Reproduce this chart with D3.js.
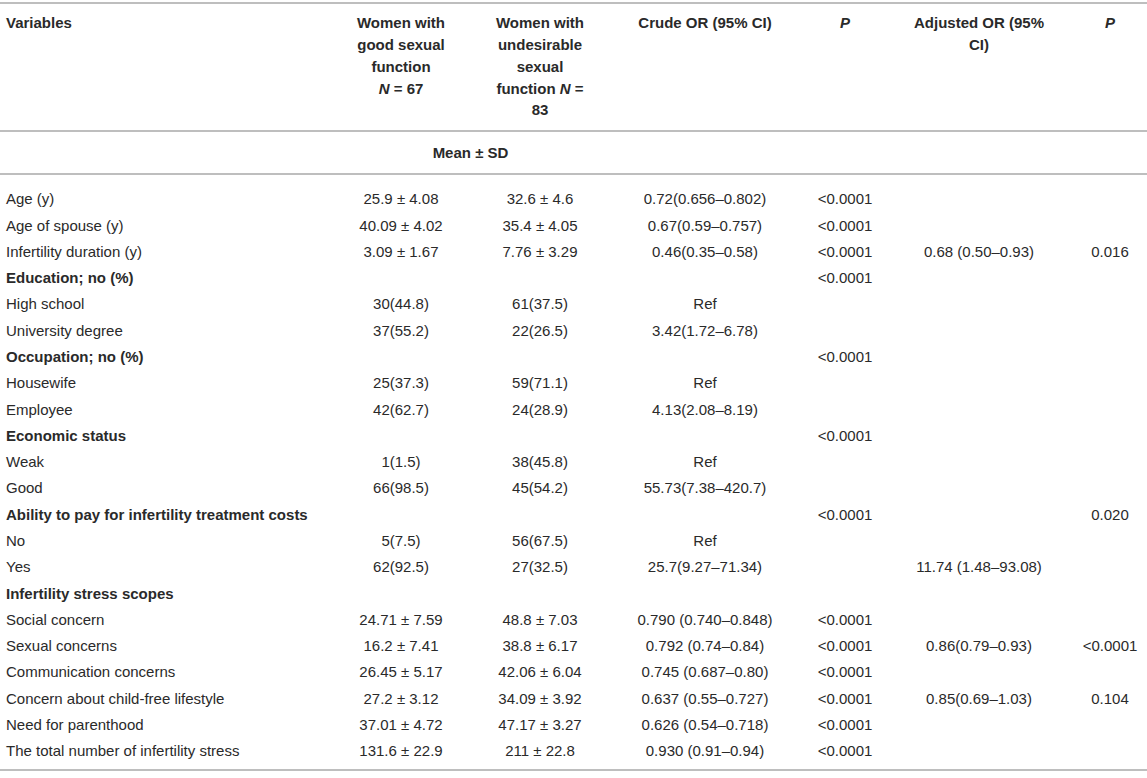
<!DOCTYPE html>
<html>
<head>
<meta charset="utf-8">
<script src="https://cdn.jsdelivr.net/npm/d3@7"></script>
<style>
  body { margin: 0; background: #fff; }
  svg text { font-family: "Liberation Sans", Helvetica, Arial, sans-serif; font-size: 15px; fill: #2a2a2a; }
</style>
</head>
<body>
<div id="chart"></div>
<script>
// table content
const columns = ["var", "good", "undes", "crude", "crudeP", "adj", "adjP"];

const headerLines = [
    ["Variables"],
    ["Women with", "good sexual", "function", "*N* = 67"],
    ["Women with", "undesirable", "sexual", "function *N* =", "83"],
    ["Crude OR (95% CI)"],
    ["*P*"],
    ["Adjusted OR (95%", "CI)"],
    ["*P*"]
];

const variables = [
    "Age (y)", "Age of spouse (y)", "Infertility duration (y)",
    "Education; no (%)", "High school", "University degree",
    "Occupation; no (%)", "Housewife", "Employee",
    "Economic status", "Weak", "Good",
    "Ability to pay for infertility treatment costs", "No", "Yes",
    "Infertility stress scopes", "Social concern", "Sexual concerns",
    "Communication concerns", "Concern about child-free lifestyle",
    "Need for parenthood", "The total number of infertility stress"
];
const boldRows = [3, 6, 9, 12, 15];

const goodFn = [
    "25.9 ± 4.08", "40.09 ± 4.02", "3.09 ± 1.67",
    "", "30(44.8)", "37(55.2)",
    "", "25(37.3)", "42(62.7)",
    "", "1(1.5)", "66(98.5)",
    "", "5(7.5)", "62(92.5)",
    "", "24.71 ± 7.59", "16.2 ± 7.41", "26.45 ± 5.17", "27.2 ± 3.12", "37.01 ± 4.72", "131.6 ± 22.9"
];
const undesFn = [
    "32.6 ± 4.6", "35.4 ± 4.05", "7.76 ± 3.29",
    "", "61(37.5)", "22(26.5)",
    "", "59(71.1)", "24(28.9)",
    "", "38(45.8)", "45(54.2)",
    "", "56(67.5)", "27(32.5)",
    "", "48.8 ± 7.03", "38.8 ± 6.17", "42.06 ± 6.04", "34.09 ± 3.92", "47.17 ± 3.27", "211 ± 22.8"
];
const crudeOR = [
    "0.72(0.656–0.802)", "0.67(0.59–0.757)", "0.46(0.35–0.58)",
    "", "Ref", "3.42(1.72–6.78)",
    "", "Ref", "4.13(2.08–8.19)",
    "", "Ref", "55.73(7.38–420.7)",
    "", "Ref", "25.7(9.27–71.34)",
    "", "0.790 (0.740–0.848)", "0.792 (0.74–0.84)", "0.745 (0.687–0.80)",
    "0.637 (0.55–0.727)", "0.626 (0.54–0.718)", "0.930 (0.91–0.94)"
];
const crudeP = [
    "<0.0001", "<0.0001", "<0.0001",
    "<0.0001", "", "",
    "<0.0001", "", "",
    "<0.0001", "", "",
    "<0.0001", "", "",
    "", "<0.0001", "<0.0001", "<0.0001", "<0.0001", "<0.0001", "<0.0001"
];
const adjOR = [
    "", "", "0.68 (0.50–0.93)",
    "", "", "", "", "", "", "", "", "", "", "",
    "11.74 (1.48–93.08)",
    "", "", "0.86(0.79–0.93)", "", "0.85(0.69–1.03)", "", ""
];
const adjP = [
    "", "", "0.016",
    "", "", "", "", "", "", "", "", "",
    "0.020", "", "",
    "", "", "<0.0001", "", "0.104", "", ""
];

const width = 1147, height = 778;

const svg = d3.select("#chart").append("svg")
    .attr("width", width)
    .attr("height", height);

// column anchors
const xCol = d3.scaleOrdinal()
    .domain(columns)
    .range([6, 401, 540, 705, 845, 979, 1110]);

// body rows
const yRow = d3.scaleLinear()
    .domain([0, variables.length - 1])
    .range([199, 751]);

// header text lines
const yHead = d3.scaleLinear().domain([0, 4]).range([23, 110]);

// rules
const rules = [3, 131, 174, 770];
svg.selectAll("line.rule")
    .data(rules)
    .enter().append("line")
    .attr("class", "rule")
    .attr("x1", 0)
    .attr("x2", width)
    .attr("y1", d => d)
    .attr("y2", d => d)
    .attr("stroke", "#a8a8a8")
    .attr("stroke-width", 1.5);

// writes "*x*" parts in italic
function addRich(sel, str) {
    str.split("*").forEach((part, i) => {
        if (!part) return;
        sel.append("tspan")
            .style("font-style", i % 2 ? "italic" : null)
            .text(part);
    });
}

// header
columns.forEach((c, ci) => {
    headerLines[ci].forEach((line, li) => {
        const t = svg.append("text")
            .attr("x", xCol(c))
            .attr("y", yHead(li))
            .attr("dy", "0.35em")
            .attr("text-anchor", ci === 0 ? "start" : "middle")
            .style("font-weight", "bold");
        addRich(t, line);
    });
});

svg.append("text")
    .attr("x", (xCol("good") + xCol("undes")) / 2)
    .attr("y", 153)
    .attr("dy", "0.35em")
    .attr("text-anchor", "middle")
    .style("font-weight", "bold")
    .text("Mean ± SD");

// body
const bodyCols = [
    ["var", variables],
    ["good", goodFn],
    ["undes", undesFn],
    ["crude", crudeOR],
    ["crudeP", crudeP],
    ["adj", adjOR],
    ["adjP", adjP]
];

bodyCols.forEach(([key, vals]) => {
    svg.append("g")
        .selectAll("text")
        .data(vals)
        .enter().append("text")
        .attr("x", xCol(key))
        .attr("y", (d, i) => yRow(i))
        .attr("dy", "0.35em")
        .attr("text-anchor", key === "var" ? "start" : "middle")
        .style("font-weight", (d, i) => key === "var" && boldRows.includes(i) ? "bold" : null)
        .text(d => d);
});
</script>
</body>
</html>
